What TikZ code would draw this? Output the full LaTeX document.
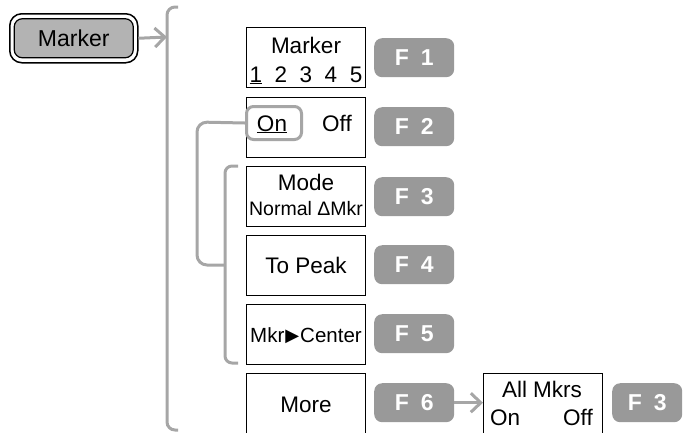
\documentclass[tikz,border=0pt]{standalone}
\usepackage{fontspec}
\setmainfont{Liberation Sans}
\newfontfamily\symfont{DejaVu Sans}
\usetikzlibrary{arrows.meta}
\definecolor{ln}{HTML}{A6A6A6}
\definecolor{keyc}{HTML}{999999}
\definecolor{btn}{HTML}{B3B3B3}
\begin{document}
\begin{tikzpicture}[x=1pt,y=-1pt,
  conn/.style={draw=ln,line width=3pt},
  arr/.style={conn,-{Straight Barb[length=10pt,width=19pt,line width=3pt]}},
  menubox/.style={draw=black,line width=1.2pt,fill=white,minimum width=119pt,minimum height=60pt,anchor=north west,inner sep=0pt},
  fkey/.style={fill=keyc,rounded corners=8pt,minimum width=80pt,minimum height=39pt,anchor=north west,inner sep=0pt,text=white,font=\bfseries\fontsize{23}{23}\selectfont},
  lbl/.style={inner sep=0pt,anchor=base,font=\fontsize{22.5}{24}\selectfont},
  slbl/.style={inner sep=0pt,anchor=base,font=\fontsize{19.5}{20}\selectfont}]
\useasboundingbox (0,0) rectangle (684,432);
\clip (0,0) rectangle (684,432);
% top cut-off parentheses
\node[lbl] (pl) at (16,-5.5) {(};
\node[lbl] (pr) at (126,-5.5) {)};
% Marker button
\node[draw=black,line width=1.5pt,fill=white,rounded corners=12pt,minimum width=128pt,minimum height=49pt,anchor=north west,inner sep=0pt] (mbo) at (9,13) {};
\node[draw=black,line width=1.2pt,fill=btn,rounded corners=8pt,minimum width=119pt,minimum height=39pt,inner sep=0pt,font=\fontsize{23}{24}\selectfont] (mbi) at (mbo.center) {Marker};
% outer bracket
\coordinate (bt) at (178,7);
\coordinate (bb) at (178,430);
\coordinate (bin) at (167,37);
\draw[conn,rounded corners=8pt] (bt) -- (167,7) -- (167,430) -- (bb);
\draw[arr] (mbo.east) -- (bin);
% menu boxes
\node[menubox] (m1) at (246,27) {};
\node[menubox] (m2) at (246,97) {};
\node[menubox] (m3) at (246,166) {};
\node[menubox] (m4) at (246,235) {};
\node[menubox] (m5) at (246,304) {};
\node[menubox] (m6) at (246,373) {};
% keys
\node[fkey] (f1) at (374,38) {F\hspace{12pt}1};
\node[fkey] (f2) at (374,107) {F\hspace{12pt}2};
\node[fkey] (f3) at (374,177) {F\hspace{12pt}3};
\node[fkey] (f4) at (374,245) {F\hspace{12pt}4};
\node[fkey] (f5) at (374,314) {F\hspace{12pt}5};
\node[fkey] (f6) at (374,383) {F\hspace{12pt}6};
% box texts
\node[lbl] (t1a) at (306,53) {Marker};
\node[lbl] (d1) at (256,82) {\underline{1}};
\node[lbl] (d2) at (281,82) {2};
\node[lbl] (d3) at (306,82) {3};
\node[lbl] (d4) at (331,82) {4};
\node[lbl] (d5) at (356,82) {5};
\node[draw=ln,line width=3pt,rounded corners=7pt,fill=white,minimum width=55pt,minimum height=33pt,anchor=north west,inner sep=0pt] (onb) at (245,105) {};
\node[lbl] (on) at (272,131) {\underline{On}};
\node[lbl] (off) at (337,131) {Off};
\node[lbl] (t3a) at (306,190) {Mode};
\node[slbl] (t3b) at (306,215) {Normal ΔMkr};
\node[lbl] (t4) at (306,273) {To Peak};
\node[slbl,font=\fontsize{20.5}{21}\selectfont] (t5) at (306,342) {Mkr\hspace{1pt}\raisebox{0.5pt}{\fontsize{18}{18}\symfont▶}\hspace{1pt}Center};
\node[lbl] (t6) at (306,412) {More};
% inner bracket and On connector
\coordinate (ib) at (225,265);
\draw[conn,rounded corners=7pt] (238,166) -- (225,166) -- (225,363) -- (238,363);
\draw[conn,rounded corners=10pt] (onb.west) -- (197,122) -- (197,265) -- (ib);
% submenu
\node[draw=black,line width=1.2pt,fill=white,minimum width=119pt,minimum height=60pt,anchor=north west,inner sep=0pt] (am) at (483,373) {};
\draw[arr] (f6.east) -- (am.west |- f6.east);
\node[lbl] (ama) at (542,397) {All Mkrs};
\node[lbl] (amon) at (505,425) {On};
\node[lbl] (amoff) at (578,425) {Off};
\node[fkey,minimum width=70pt] (f3b) at (612,383) {F\hspace{12pt}3};
\end{tikzpicture}
\end{document}
